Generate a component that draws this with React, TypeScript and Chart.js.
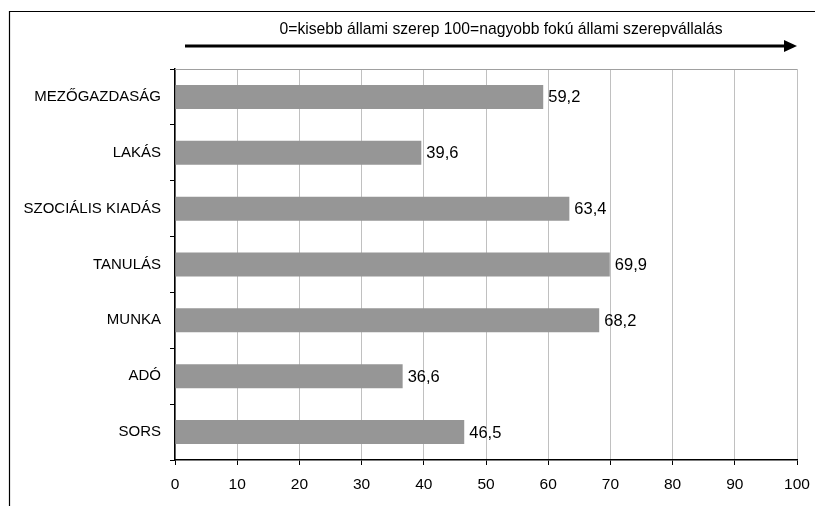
import React, { useEffect, useRef } from "react";
import { Chart, registerables } from "chart.js";

Chart.register(...registerables);

const categories = ["MEZŐGAZDASÁG", "LAKÁS", "SZOCIÁLIS KIADÁS", "TANULÁS", "MUNKA", "ADÓ", "SORS"];
const values = [59.2, 39.6, 63.4, 69.9, 68.2, 36.6, 46.5];
const xTicks = [0, 10, 20, 30, 40, 50, 60, 70, 80, 90, 100];
const headerText = "0=kisebb állami szerep 100=nagyobb fokú állami szerepvállalás";

const FONT = "'Liberation Sans', Arial, sans-serif";

const decorPlugin = {
  id: "decor",
  beforeDraw(chart: any) {
    const ctx = chart.ctx;
    ctx.save();
    ctx.fillStyle = "#ffffff";
    ctx.fillRect(0, 0, chart.width, chart.height);
    ctx.restore();
  },
  afterDraw(chart: any) {
    const ctx = chart.ctx;
    const area = chart.chartArea;
    ctx.save();
    // outer frame (left & top)
    ctx.strokeStyle = "#000000";
    ctx.lineWidth = 1.2;
    ctx.beginPath();
    ctx.moveTo(9.5, chart.height + 2);
    ctx.lineTo(9.5, 11.5);
    ctx.lineTo(chart.width + 2, 11.5);
    ctx.stroke();
    // top border of plot area
    ctx.strokeStyle = "#a0a0a0";
    ctx.lineWidth = 1;
    ctx.beginPath();
    ctx.moveTo(area.left, area.top + 0.5);
    ctx.lineTo(area.right, area.top + 0.5);
    ctx.stroke();
    // header text
    ctx.fillStyle = "#000000";
    ctx.font = "15.7px " + FONT;
    ctx.textAlign = "center";
    ctx.textBaseline = "middle";
    ctx.fillText(headerText, 501, 30);
    // arrow
    const y = 46;
    ctx.strokeStyle = "#000000";
    ctx.lineWidth = 3;
    ctx.beginPath();
    ctx.moveTo(185, y);
    ctx.lineTo(786, y);
    ctx.stroke();
    ctx.beginPath();
    ctx.moveTo(797, y);
    ctx.lineTo(784, y - 6);
    ctx.lineTo(784, y + 6);
    ctx.closePath();
    ctx.fill();
    // value labels
    const meta = chart.getDatasetMeta(0);
    ctx.font = "16.5px " + FONT;
    ctx.textAlign = "left";
    ctx.textBaseline = "middle";
    meta.data.forEach((bar: any, i: number) => {
      ctx.fillText(values[i].toFixed(1).replace(".", ","), bar.x + 5, bar.y + 1);
    });
    ctx.restore();
  },
};

export default function App() {
  const ref = useRef<HTMLCanvasElement>(null);
  useEffect(() => {
    document.body.style.margin = "0";
    const chart = new Chart(ref.current as HTMLCanvasElement, {
      type: "bar",
      data: {
        labels: categories,
        datasets: [
          {
            data: values,
            backgroundColor: "#969696",
            borderWidth: 0,
            barPercentage: 0.43,
            categoryPercentage: 1,
          },
        ],
      },
      options: {
        indexAxis: "y",
        animation: false,
        responsive: false,
        devicePixelRatio: 1,
        layout: { padding: { top: 69, right: 18, left: 0, bottom: 0 } },
        plugins: { legend: { display: false }, tooltip: { enabled: false } },
        scales: {
          x: {
            min: 0,
            max: 100,
            afterFit(scale: any) {
              scale.height = 46;
              scale.paddingLeft = 0;
              scale.paddingRight = 0;
            },
            afterBuildTicks(scale: any) {
              scale.ticks = xTicks.map((v) => ({ value: v }));
            },
            ticks: {
              color: "#000000",
              font: { family: FONT, size: 15.5 },
              padding: 10,
              maxRotation: 0,
            },
            grid: {
              color: "#c0c0c0",
              tickColor: "#000000",
              tickLength: 5,
              drawTicks: true,
            },
            border: { color: "#000000", width: 1.5 },
          },
          y: {
            afterFit(scale: any) {
              scale.width = 175;
              scale.paddingTop = 0;
              scale.paddingBottom = 0;
            },
            ticks: {
              color: "#000000",
              font: { family: FONT, size: 15 },
              padding: 9,
            },
            grid: {
              offset: true,
              drawOnChartArea: false,
              tickColor: "#000000",
              tickLength: 5,
            },
            border: { color: "#000000", width: 1.5 },
          },
        },
      },
      plugins: [decorPlugin],
    } as any);
    return () => chart.destroy();
  }, []);
  return <canvas ref={ref} width={815} height={506} style={{ display: "block" }} />;
}
